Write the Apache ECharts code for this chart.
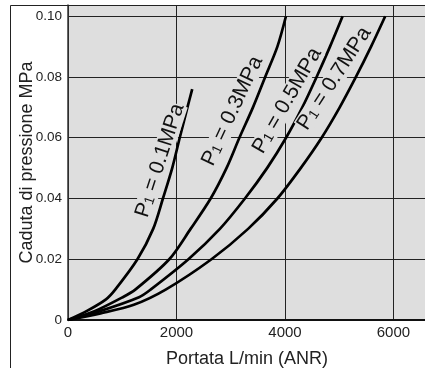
<!doctype html>
<html>
<head>
<meta charset="utf-8">
<script src="https://cdn.jsdelivr.net/npm/echarts@6/dist/echarts.min.js"></script>
<style>
    html, body {margin: 0; padding: 0; background: #fff;}
    #chart {width: 425px; height: 368px;}
</style>
</head>
<body>
<div id="chart"></div>
<script>
    // curve data: [portata L/min, caduta MPa]
    var p01 = [[0, 0], [350, 0.003], [700, 0.0068], [870, 0.01], [1280, 0.02], [1570, 0.03],
        [1750, 0.04], [1921, 0.05], [2060, 0.06], [2202, 0.07], [2290, 0.076]];
    var p03 = [[0, 0], [500, 0.003], [1008, 0.0075], [1240, 0.01], [1867, 0.02], [2260, 0.03],
        [2630, 0.04], [2922, 0.05], [3160, 0.06], [3410, 0.07], [3635, 0.08], [3860, 0.09], [4018, 0.1]];
    var p05 = [[0, 0], [600, 0.003], [1309, 0.0075], [1522, 0.01], [2220, 0.02], [2800, 0.03],
        [3262, 0.04], [3670, 0.05], [4020, 0.06], [4320, 0.07], [4583, 0.08], [4830, 0.09], [5062, 0.1]];
    var p07 = [[0, 0], [600, 0.0022], [1213, 0.005], [1800, 0.01], [2645, 0.02], [3320, 0.03],
        [3860, 0.04], [4290, 0.05], [4676, 0.06], [5009, 0.07], [5308, 0.08], [5587, 0.09], [5848, 0.1]];

    var names = ['0.1MPa', '0.3MPa', '0.5MPa', '0.7MPa'];
    // label anchor (data coords) and rotation of each curve label
    var labelAt = [[1696, 0.0525], [3030, 0.0688], [4040, 0.0722], [4910, 0.0795]];
    var labelRot = [72, 65, 60, 57];

    var myChart = echarts.init(document.getElementById('chart'));

    var series = [p01, p03, p05, p07].map(function (d, i) {
        return {
            type: 'line',
            data: d,
            smooth: 0.3,
            symbol: 'none',
            lineStyle: {color: '#000', width: 2.7},
            z: 3,
            markPoint: {
                symbol: 'rect',
                symbolSize: 1,
                itemStyle: {color: 'rgba(0,0,0,0)'},
                silent: true,
                label: {
                    show: true,
                    position: 'inside',
                    rotate: labelRot[i],
                    backgroundColor: '#dedede',
                    padding: 0,
                    formatter: '{n|P}{s|1}{n| = ' + names[i] + '}',
                    rich: {
                        n: {fontSize: 21, lineHeight: 20, color: '#111', fontFamily: 'Liberation Sans'},
                        s: {fontSize: 14, lineHeight: 14, verticalAlign: 'bottom', color: '#111', fontFamily: 'Liberation Sans'}
                    }
                },
                data: [{coord: labelAt[i]}]
            }
        };
    });

    var option = {
        animation: false,
        textStyle: {fontFamily: 'Liberation Sans'},
        graphic: [{
            type: 'rect',
            shape: {x: 10.5, y: 5.5, width: 440, height: 400},
            style: {fill: null, stroke: '#222', lineWidth: 1},
            z: 100
        }],
        grid: {
            left: 68, top: 5, right: -1, bottom: 48, outerBoundsMode: 'none',
            backgroundColor: '#dedede', show: true, borderWidth: 0
        },
        xAxis: {
            type: 'value',
            min: 0,
            max: 6600,
            interval: 2000,
            name: 'Portata L/min (ANR)',
            nameLocation: 'middle',
            nameGap: 30,
            nameMoveOverlap: false,
            nameTextStyle: {fontSize: 18, color: '#222'},
            axisLine: {lineStyle: {color: '#111', width: 2}},
            axisTick: {show: false},
            axisLabel: {
                fontSize: 15, color: '#222', margin: 5,
                formatter: function (v) { return v % 2000 === 0 ? String(v) : ''; }
            },
            splitLine: {lineStyle: {color: '#222', width: 1}}
        },
        yAxis: {
            type: 'value',
            min: 0,
            max: 0.1037,
            interval: 0.02,
            name: 'Caduta di pressione MPa',
            nameLocation: 'middle',
            nameGap: 32,
            nameMoveOverlap: false,
            nameTextStyle: {fontSize: 18, color: '#222'},
            axisLine: {show: true, lineStyle: {color: '#333', width: 1.5}},
            axisTick: {show: false},
            axisLabel: {
                fontSize: 13.5, color: '#222', margin: 6,
                formatter: function (v) {
                    var k = v / 0.02;
                    if (Math.abs(k - Math.round(k)) > 1e-6) return '';
                    return v === 0 ? '0' : v.toFixed(2);
                }
            },
            splitLine: {lineStyle: {color: '#222', width: 1}}
        },
        series: series
    };

    myChart.setOption(option);
</script>
</body>
</html>
